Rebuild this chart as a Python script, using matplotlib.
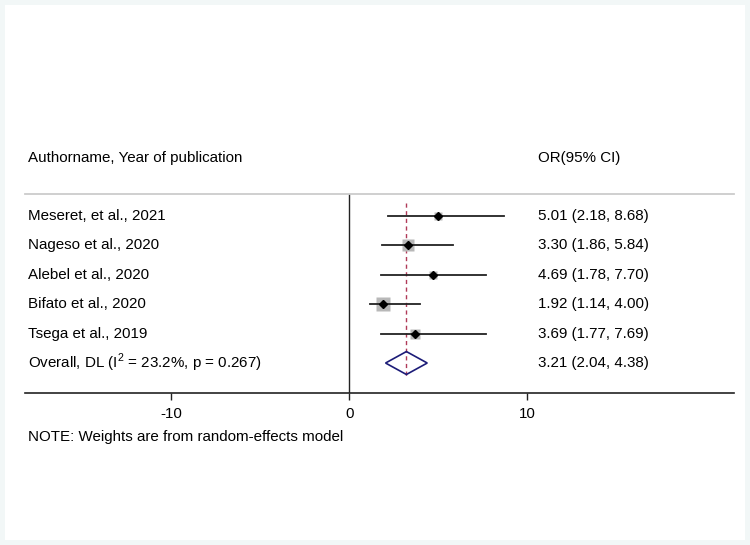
import matplotlib
matplotlib.use('Agg')
import matplotlib.pyplot as plt
from matplotlib.patches import Polygon, Rectangle

plt.rcParams['font.family'] = ['Liberation Sans', 'DejaVu Sans']
plt.rcParams['mathtext.fontset'] = 'custom'
plt.rcParams['mathtext.rm'] = 'Liberation Sans'

# study data
studies = ['Meseret, et al., 2021', 'Nageso et al., 2020', 'Alebel et al., 2020',
           'Bifato et al., 2020', 'Tsega et al., 2019']
or_est = [5.01, 3.30, 4.69, 1.92, 3.69]
ci_low = [2.18, 1.86, 1.78, 1.14, 1.77]
ci_high = [8.68, 5.84, 7.70, 4.00, 7.69]
weights = [12, 25, 14, 33, 16]  # approx %

overall_label = r'Overall, DL (I$^{2}$ = 23.2%, p = 0.267)'
overall = 3.21
overall_low = 2.04
overall_high = 4.38

xticks = [-10, 0, 10]

fs = 10.9

fig = plt.figure(figsize=(7.5, 5.45), dpi=100)
fig.patch.set_facecolor('#f2f7f7')
fig.patches.append(Rectangle((5/750, 5/545), 740/750, 535/545, transform=fig.transFigure,
                             facecolor='white', edgecolor='none', zorder=-10))

ax = fig.add_axes([25/750, (545-393)/545, 709/750, 199/545])
ax.set_zorder(5)
ax.set_facecolor('none')
ax.set_xlim(-18.2, 21.6)
ax.set_ylim(6.02, -0.75)

for s in ['left', 'right']:
    ax.spines[s].set_visible(False)
ax.spines['top'].set_color('#cccccc')
ax.spines['top'].set_linewidth(1.3)
ax.spines['bottom'].set_color('#222222')
ax.spines['bottom'].set_linewidth(1.2)
ax.set_yticks([])
ax.set_xticks(xticks)
ax.set_xticklabels([str(t) for t in xticks], fontsize=fs)
ax.tick_params(axis='x', direction='out', length=5, width=1, color='#222222', pad=5)

# null line
ax.plot([0, 0], [-0.75, 6.02], color='#222222', lw=1, zorder=1)
# overall dashed line
ax.plot([overall, overall], [-0.44, 5.51], color='#b03a58', lw=1, ls=(0, (3, 2.5)), zorder=2)

label_x = -18.05
or_x = 10.6
for i, name in enumerate(studies):
    ax.plot([ci_low[i], ci_high[i]], [i, i], color='#222222', lw=1.3, zorder=3)
    ax.plot(or_est[i], i, marker='s', ms=1.65 * weights[i] ** 0.5, color='#b8b8b8',
            mec='none', zorder=2)
    ax.plot(or_est[i], i, marker='D', ms=4.0, color='black', zorder=4)
    ax.text(label_x, i, name, fontsize=fs, va='center', ha='left')
    ax.text(or_x, i, '%.2f (%.2f, %.2f)' % (or_est[i], ci_low[i], ci_high[i]),
            fontsize=fs, va='center', ha='left')

row = len(studies)
h = 0.39
ax.add_patch(Polygon([(overall_low, row), (overall, row - h), (overall_high, row),
                      (overall, row + h)], closed=True, facecolor='none',
                     edgecolor='#1c1c78', lw=1.2, zorder=3))
ax.text(label_x, row, overall_label, fontsize=fs, va='center', ha='left')
ax.text(or_x, row, '%.2f (%.2f, %.2f)' % (overall, overall_low, overall_high),
        fontsize=fs, va='center', ha='left')

# headers
ax.text(label_x, -1.97, 'Authorname, Year of publication', fontsize=fs, va='center',
        ha='left', clip_on=False)
ax.text(or_x, -1.97, 'OR(95% CI)', fontsize=fs, va='center', ha='left', clip_on=False)

fig.text(28/750, 1 - 437/545, 'NOTE: Weights are from random-effects model',
         fontsize=fs, va='center', ha='left')

fig.savefig('out.png', dpi=100, facecolor=fig.get_facecolor())
